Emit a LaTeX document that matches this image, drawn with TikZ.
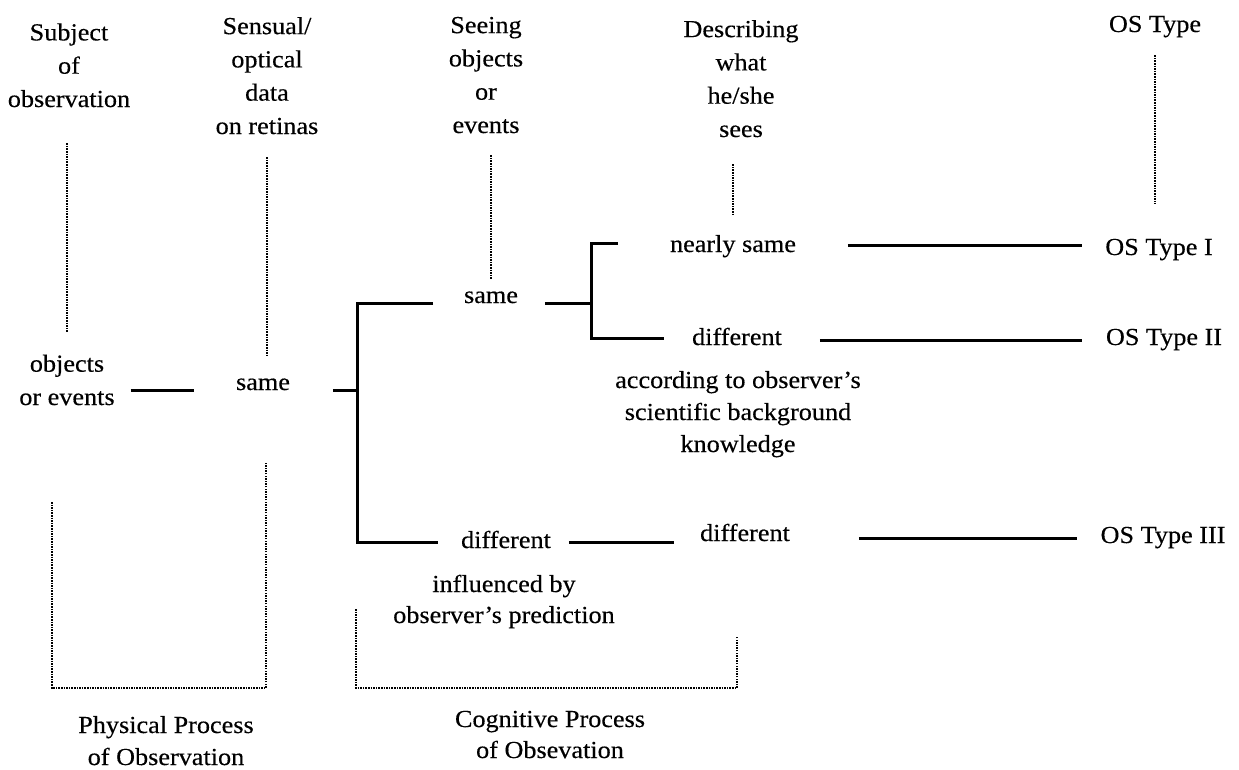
\documentclass[tikz,border=0pt]{standalone}
\usepackage{fontspec}
\setmainfont{Liberation Serif}[FakeStretch=1.07,FakeBold=0.3]
\usetikzlibrary{calc}
\begin{document}
\begin{tikzpicture}[x=1pt,y=-1pt,
  txt/.style={inner sep=0pt,outer sep=0pt,anchor=base,align=center,font=\fontsize{24.5}{33.3}\selectfont},
  conn/.style={line width=3pt},
  dotline/.style={line width=2.2pt,dash pattern=on 1.5pt off 1.1pt}]
\useasboundingbox[fill=white] (0,0) rectangle (1239,769);
% headers (anchor = baseline of the last line)
\node[txt] (hSubj) at (69,107) {Subject\\of\\observation};
\node[txt] (hSens) at (267,134) {Sensual/\\optical\\data\\on retinas};
\node[txt] (hSee) at (486,133) {Seeing\\objects\\or\\events};
\node[txt] (hDesc) at (741,137) {Describing\\what\\he/she\\sees};
\node[txt] (hOS) at (1155,32) {OS Type};
% body
\node[txt] (objev) at (67,405) {objects\\or events};
\node[txt] (same1) at (263,390) {same};
\node[txt] (sameA) at (491,303) {same};
\node[txt] (diffA) at (506,548) {different};
\node[txt] (nearly) at (733,252) {nearly same};
\node[txt] (diffB) at (737,345) {different};
\node[txt,font=\fontsize{24.5}{32}\selectfont] (accord) at (738,452) {according to observer’s\\scientific background\\knowledge};
\node[txt] (diffC) at (745,541) {different};
\node[txt] (osI) at (1159,255) {OS Type I};
\node[txt] (osII) at (1164,345) {OS Type II};
\node[txt] (osIII) at (1163,543) {OS Type III};
\node[txt,font=\fontsize{24.5}{31}\selectfont] (influ) at (504,623) {influenced by\\observer’s prediction};
\node[txt,font=\fontsize{24.5}{32}\selectfont] (physlab) at (166,765) {Physical Process\\of Observation};
\node[txt,font=\fontsize{24.5}{31}\selectfont] (coglab) at (550,758) {Cognitive Process\\of Obsevation};
% junctions
\coordinate (k1) at (357,390);
\coordinate (k2) at (591,303);
% solid connectors
\draw[conn] ($(objev.east |- same1.base)+(16,0)$) -- ($(same1.base west)+(-42,0)$);
\draw[conn] ($(same1.base east)+(43,0)$) -- (k1);
\draw[conn] ($(sameA.base west)+(-31,0)$) -| (k1) |- ($(diffA.base west)+(-23,-6)$);
\draw[conn] ($(sameA.base east)+(27,0)$) -- (k2);
\draw[conn] ($(nearly.base west)+(-52,-9)$) -| (k2) |- ($(diffB.base west)+(-28,-7)$);
\draw[conn] ($(nearly.base east)+(52,-7)$) -- ($(osI.base west)+(-23,-10)$);
\draw[conn] ($(diffB.base east)+(38,-5)$) -- ($(osII.base west)+(-24,-5)$);
\draw[conn] ($(diffA.base east)+(18,-6)$) -- ($(diffC.base west)+(-26,1)$);
\draw[conn] ($(diffC.base east)+(69,-3)$) -- ($(osIII.base west)+(-24,-5)$);
% dotted connectors
\draw[dotline] ($(objev.north |- hSubj.south)+(0,36)$) -- ($(objev.north)+(0,-22)$);
\draw[dotline] ($(hSens.south)+(0,23)$) -- ($(hSens.south |- same1.north)+(0,-22)$);
\draw[dotline] ($(sameA.north |- hSee.south)+(0,22)$) -- ($(sameA.north)+(0,-12)$);
\draw[dotline] ($(nearly.north |- hDesc.south)+(0,27)$) -- ($(nearly.north)+(0,-20)$);
\draw[dotline] ($(hOS.south)+(0,18)$) -- ($(hOS.south |- osI.north)+(0,-35)$);
% process brackets
\draw[dotline] (52,502) -- (52,688) -- (266,688) -- (266,463);
\draw[dotline] (356,609) -- (356,688) -- (737,688) -- (737,637);
\end{tikzpicture}
\end{document}
